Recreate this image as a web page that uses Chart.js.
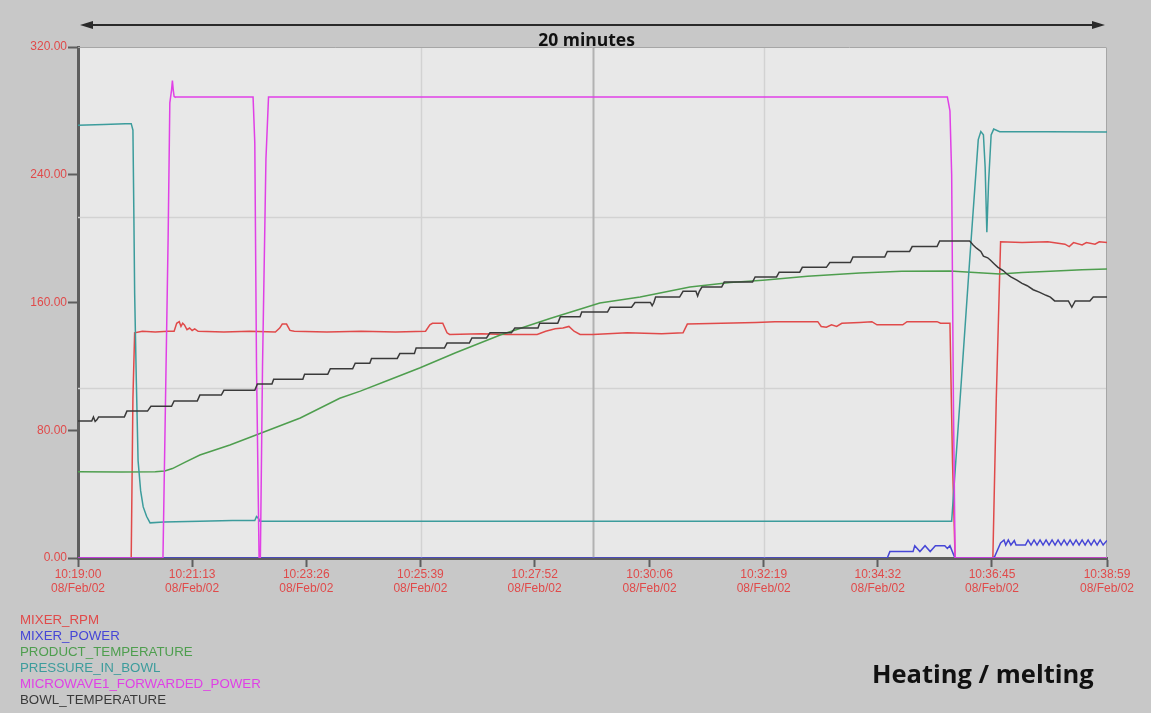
<!DOCTYPE html>
<html lang="en">
<head>
<meta charset="UTF-8">
<title>Heating / melting</title>
<script src="https://cdn.jsdelivr.net/npm/chart.js"></script>
<style>
  body { margin: 0; background: #c8c8c8; }
  #wrap { position: relative; width: 1151px; height: 713px; background: #c8c8c8; overflow: hidden; }
  #legend { position: absolute; left: 20px; top: 612px; font: 13.3px 'Liberation Sans', Arial, sans-serif; }
  #legend div { height: 16px; line-height: 16px; white-space: nowrap; }
  #stage { position: absolute; left: 872px; top: 661px; font: bold 25.5px 'Open Sans', sans-serif; line-height: 25.5px; color: #111; white-space: nowrap; }
</style>
</head>
<body>
<div id="wrap">
  <canvas id="trend" width="1151" height="713"></canvas>
  <div id="legend"></div>
  <div id="stage">Heating / melting</div>
</div>

<script>
// seconds after 10:19:00 on 08/Feb/02
const timeLabels = ['10:19:00', '10:21:13', '10:23:26', '10:25:39', '10:27:52', '10:30:06', '10:32:19', '10:34:32', '10:36:45', '10:38:59'];
const tickSeconds = [0, 133, 266, 399, 532, 666, 799, 932, 1065, 1199];
const dateLabel = '08/Feb/02';
const yTicks = [0, 80, 160, 240, 320];

const seriesNames = ['MIXER_RPM', 'MIXER_POWER', 'PRODUCT_TEMPERATURE', 'PRESSURE_IN_BOWL', 'MICROWAVE1_FORWARDED_POWER', 'BOWL_TEMPERATURE'];
const seriesColors = ['#e04a4a', '#4646d6', '#4e9e4e', '#3c9c9c', '#e040e6', '#3a3a3a'];

const mixerRpm = [[0,0],[62,0],[64,100],[66,141],[75,142],[90,141.5],[105,142],[112,142],[115,147],[118,148],[120,145],[122,147],[124,146],[127,143],[130,144],[133,142.5],[136,143.5],[140,142],[170,141.5],[200,142],[230,141.5],[235,144],[238,146.5],[243,146.5],[247,142.5],[252,142],[290,141.5],[330,142],[370,141.5],[405,142],[410,146],[413,147],[425,147],[430,141],[433,140],[470,140.5],[500,140],[535,140],[545,142],[556,143.5],[565,144],[572,145],[578,142],[585,140],[600,140],[640,141],[680,140.5],[705,141],[710,146.5],[750,147],[790,147.5],[812,148],[862,148],[866,145],[872,144.5],[878,146],[884,145],[890,147],[911,147.5],[925,148],[931,146],[961,146],[966,148],[1001,148],[1005,147],[1016,147],[1019,60],[1022,0],[1066,0],[1070,100],[1075,198],[1100,197.5],[1130,198],[1150,196.5],[1155,195],[1160,197.5],[1170,196],[1175,197.5],[1185,196.5],[1190,198],[1199,197.5]];

const mixerPower = [[0,0],[943,0],[946,4],[973,4],[975,7.7],[981,4],[987,7.7],[993,4],[999,7.7],[1010,7.7],[1013,6],[1016,7.7],[1021,1],[1023,0],[1066,0],[1068,0.8],[1075,9.4],[1079,11.3],[1081,8.1],[1084,11.3],[1087,8.1],[1091,11],[1093,8.1],[1104,8.1],[1107,11.3],[1110.5,8.1],[1114,11.3],[1117.5,8.1],[1121,11.3],[1124.5,8.1],[1128,11.3],[1131.5,8.1],[1135,11.3],[1138.5,8.1],[1142,11.3],[1145.5,8.1],[1149,11.3],[1152.5,8.1],[1156,11.3],[1159.5,8.1],[1163,11.3],[1166.5,8.1],[1170,11.3],[1173.5,8.1],[1177,11.3],[1180.5,8.1],[1184,11.3],[1187.5,8.1],[1191,11.3],[1194.5,8.1],[1199,11]];

const productTemp = [[0,54],[50,53.8],[90,54],[101,54.5],[110,56],[125,60],[142,64.5],[177,70.8],[212,78],[259,87.7],[305,100],[329,104.5],[360,111],[398,119],[440,128.5],[492,139.6],[550,150],[608,159.7],[655,163.5],[713,169.7],[760,172.5],[798,174],[850,176.5],[911,178.5],[960,179.5],[1016,179.7],[1040,179],[1074,177.8],[1100,178.8],[1133,179.5],[1170,180.5],[1199,181]];

const bowlPressure = [[0,271],[30,271.5],[55,272],[62,272],[64,268],[65,220],[66,166],[68,110],[70,61],[73,42],[76,32],[80,26],[84,22],[100,22.5],[142,23],[180,23.5],[206,23.5],[208,26],[210,25],[212,23],[500,23],[1016,23],[1018,23],[1039,186.6],[1049,262],[1052,267],[1055,265],[1057,245],[1059,204],[1061,235],[1064,265],[1067,268.6],[1074,267],[1130,267],[1199,266.8]];

const microwavePower = [[0,0],[99,0],[102,100],[105,200],[107,285],[109,293],[110,299],[111,293],[112,289],[113,288.7],[204,288.7],[206,260],[208,120],[211,0],[212.5,0],[215,120],[219,250],[222,288.7],[1013,288.7],[1016,280],[1018,240],[1020,100],[1022,0],[1199,0]];

const bowlTemp = [[0,85.8],[16,85.8],[18,88.3],[20,85.5],[22,86.5],[24,88.3],[54,88.3],[57,92],[81,92],[85,95],[109,95],[112,98.3],[139,98.3],[142,102],[167,102],[170,105],[206,105],[209,109],[226,109],[228,112],[262,112],[264,115],[291,115],[294,118.5],[320,118.5],[323,122],[340,122],[342,125],[372,125],[375,128],[392,128],[394,131.5],[427,131.5],[430,134.6],[456,134.6],[459,137.8],[476,137.8],[480,141],[505,141],[509,144],[536,144],[538,147],[559,147],[562,151],[585,151],[587,154],[617,154],[620,157],[645,157],[649,160],[667,160],[669,158],[671,160],[673,163.4],[701,163.4],[705,167],[720,167],[722,164],[724,167],[727,169.7],[750,169.7],[753,172.8],[786,172.8],[789,176],[814,176],[817,179],[841,179],[844,182],[872,182],[876,185],[900,185],[903,188.5],[940,188.5],[943,192],[969,192],[972,195],[1001,195],[1004,198.5],[1039,198.5],[1043,196],[1047,194],[1052,192],[1055,189],[1060,188],[1063,186.6],[1068,184],[1072,182],[1078,180],[1082,178],[1087,176],[1094,174],[1100,172],[1106,170.5],[1113,168],[1120,166.5],[1128,164.5],[1133,163.4],[1138,161],[1154,161],[1158,157],[1162,161],[1179,161],[1183,163.4],[1199,163.4]];

const allSeries = [mixerRpm, mixerPower, productTemp, bowlPressure, microwavePower, bowlTemp];

// legend as plain coloured text
const legendBox = document.getElementById('legend');
seriesNames.forEach((name, i) => {
  const d = document.createElement('div');
  d.textContent = name;
  d.style.color = seriesColors[i];
  legendBox.appendChild(d);
});

const axisGrey = '#5e5e5e';
const tickRed = '#e04a4a';

// plot background, faint grid and the "20 minutes" arrow
const trendDecor = {
  id: 'trendDecor',
  beforeDraw(chart) {
    const a = chart.chartArea, ctx = chart.ctx;
    ctx.save();
    ctx.fillStyle = '#e8e8e8';
    ctx.fillRect(a.left, a.top, a.right - a.left, a.bottom - a.top);
    ctx.restore();
  },
  beforeDatasetsDraw(chart) {
    const a = chart.chartArea, ctx = chart.ctx;
    const xs = chart.scales.x, ys = chart.scales.y;
    ctx.save();
    [1 / 3, 2 / 3].forEach(f => {
      const y = Math.round(ys.getPixelForValue(ys.min + f * (ys.max - ys.min))) + 0.5;
      ctx.strokeStyle = '#d2d2d2'; ctx.lineWidth = 1.5;
      ctx.beginPath(); ctx.moveTo(a.left, y); ctx.lineTo(a.right, y); ctx.stroke();
    });
    [[1 / 3, '#d2d2d2', 1.5], [1 / 2, '#b2b2b2', 2], [2 / 3, '#d2d2d2', 1.5]].forEach(([f, c, w]) => {
      const x = Math.round(xs.getPixelForValue(xs.min + f * (xs.max - xs.min))) + 0.5;
      ctx.strokeStyle = c; ctx.lineWidth = w;
      ctx.beginPath(); ctx.moveTo(x, a.top); ctx.lineTo(x, a.bottom); ctx.stroke();
    });
    ctx.strokeStyle = '#a6a6a6'; ctx.lineWidth = 1;
    ctx.beginPath();
    ctx.moveTo(a.left, a.top + 0.5); ctx.lineTo(a.right - 0.5, a.top + 0.5); ctx.lineTo(a.right - 0.5, a.bottom);
    ctx.stroke();
    ctx.restore();
  },
  afterDraw(chart) {
    const a = chart.chartArea, ctx = chart.ctx;
    const y = 25, x1 = a.left + 2, x2 = a.right - 2;
    ctx.save();
    ctx.strokeStyle = '#2a2a2a'; ctx.fillStyle = '#2a2a2a'; ctx.lineWidth = 2;
    ctx.beginPath(); ctx.moveTo(x1 + 8, y); ctx.lineTo(x2 - 8, y); ctx.stroke();
    ctx.beginPath(); ctx.moveTo(x1, y); ctx.lineTo(x1 + 13, y - 4); ctx.lineTo(x1 + 13, y + 4); ctx.closePath(); ctx.fill();
    ctx.beginPath(); ctx.moveTo(x2, y); ctx.lineTo(x2 - 13, y - 4); ctx.lineTo(x2 - 13, y + 4); ctx.closePath(); ctx.fill();
    ctx.font = 'bold 17.5px "Open Sans", sans-serif';
    ctx.fillStyle = '#111';
    ctx.textAlign = 'center';
    ctx.textBaseline = 'alphabetic';
    ctx.fillText('20 minutes', (a.left + a.right) / 2 - 6, 46);
    ctx.restore();
  }
};

Chart.defaults.font.family = "'Liberation Sans', Arial, sans-serif";

new Chart(document.getElementById('trend'), {
  type: 'line',
  data: {
    datasets: allSeries.map((s, i) => ({
      label: seriesNames[i],
      data: s.map(p => ({ x: p[0], y: p[1] })),
      borderColor: seriesColors[i],
      borderWidth: 1.5,
      pointRadius: 0,
      tension: 0,
      fill: false,
      order: allSeries.length - i
    }))
  },
  options: {
    responsive: false,
    animation: false,
    layout: { padding: { top: 47, right: 44, left: 0, bottom: 0 } },
    plugins: { legend: { display: false }, tooltip: { enabled: false } },
    scales: {
      x: {
        type: 'linear',
        min: 0,
        max: 1199,
        afterBuildTicks: s => { s.ticks = tickSeconds.map(v => ({ value: v })); },
        afterFit: s => { s.height = 155; },
        ticks: {
          color: tickRed,
          font: { size: 12, lineHeight: 1.15 },
          maxRotation: 0,
          autoSkip: false,
          padding: 1,
          callback: (v, i) => [timeLabels[i], dateLabel]
        },
        grid: { drawOnChartArea: false, drawTicks: true, tickLength: 9, tickColor: axisGrey, tickWidth: 2 },
        border: { color: axisGrey, width: 3 }
      },
      y: {
        min: 0,
        max: 320,
        afterBuildTicks: s => { s.ticks = yTicks.map(v => ({ value: v })); },
        afterFit: s => { s.width = 78; },
        ticks: {
          color: tickRed,
          font: { size: 12 },
          padding: 1,
          callback: v => v.toFixed(2)
        },
        grid: { drawOnChartArea: false, drawTicks: true, tickLength: 10, tickColor: axisGrey, tickWidth: 2 },
        border: { color: axisGrey, width: 3 }
      }
    }
  },
  plugins: [trendDecor]
});
</script>
</body>
</html>
